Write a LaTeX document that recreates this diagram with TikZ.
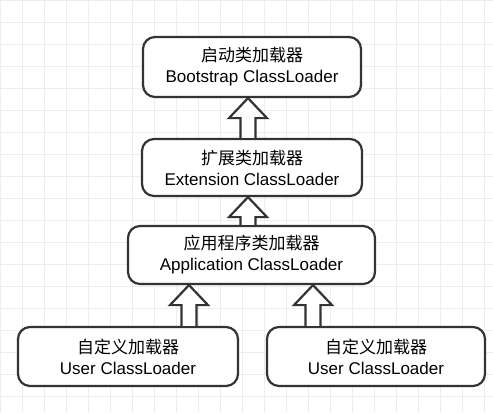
\documentclass[tikz,border=0pt]{standalone}
\usepackage{fontspec}
\setmainfont{Liberation Sans}
\newfontfamily\cjk{Noto Sans CJK SC}
\usetikzlibrary{calc}
\definecolor{boxline}{HTML}{333333}

% hollow block arrow from #1 (base) up to #2 (tip)
\newcommand{\hollowarrow}[2]{%
  \draw[arrowbody] ([xshift=-7.5pt]#1) -- ([xshift=-7.5pt,yshift=-20pt]#2) -- ([xshift=-19pt,yshift=-20pt]#2)
    -- (#2) -- ([xshift=19pt,yshift=-20pt]#2) -- ([xshift=7.5pt,yshift=-20pt]#2) -- ([xshift=7.5pt]#1);}

\begin{document}
\begin{tikzpicture}[x=1pt,y=-1pt,
  loader/.style={draw=boxline, line width=2.2pt, rounded corners=12pt, fill=white, align=center,
    font=\fontsize{17}{21}\selectfont, inner sep=0pt},
  arrowbody/.style={draw=boxline, line width=2.2pt, fill=white, line join=miter}]
\useasboundingbox (0,0) rectangle (493,413);
\draw[black!7, step=22pt] (0,0) grid (493,413);

\node[loader, minimum width=218pt, minimum height=60pt] (boot) at (252,67) {{\cjk 启动类加载器}\\Bootstrap ClassLoader};
\node[loader, minimum width=220pt, minimum height=57pt] (ext) at (252,167.5) {{\cjk 扩展类加载器}\\Extension ClassLoader};
\node[loader, minimum width=247pt, minimum height=58pt] (app) at (251.5,255) {{\cjk 应用程序类加载器}\\Application ClassLoader};
\node[loader, minimum width=220pt, minimum height=59pt] (user1) at (128,356.5) {{\cjk 自定义加载器}\\User ClassLoader};
\node[loader, minimum width=218pt, minimum height=59pt] (user2) at (376,356.5) {{\cjk 自定义加载器}\\User ClassLoader};

\coordinate (e1) at ([xshift=-4pt]ext.north);
\coordinate (b1) at (e1 |- boot.south);
\coordinate (a1) at ([xshift=-3.5pt]app.north);
\coordinate (x1) at (a1 |- ext.south);
\coordinate (u1) at ([xshift=61pt]user1.north);
\coordinate (p1) at (u1 |- app.south);
\coordinate (u2) at ([xshift=-63pt]user2.north);
\coordinate (p2) at (u2 |- app.south);

\hollowarrow{e1}{b1}
\hollowarrow{a1}{x1}
\hollowarrow{u1}{p1}
\hollowarrow{u2}{p2}
\end{tikzpicture}
\end{document}
